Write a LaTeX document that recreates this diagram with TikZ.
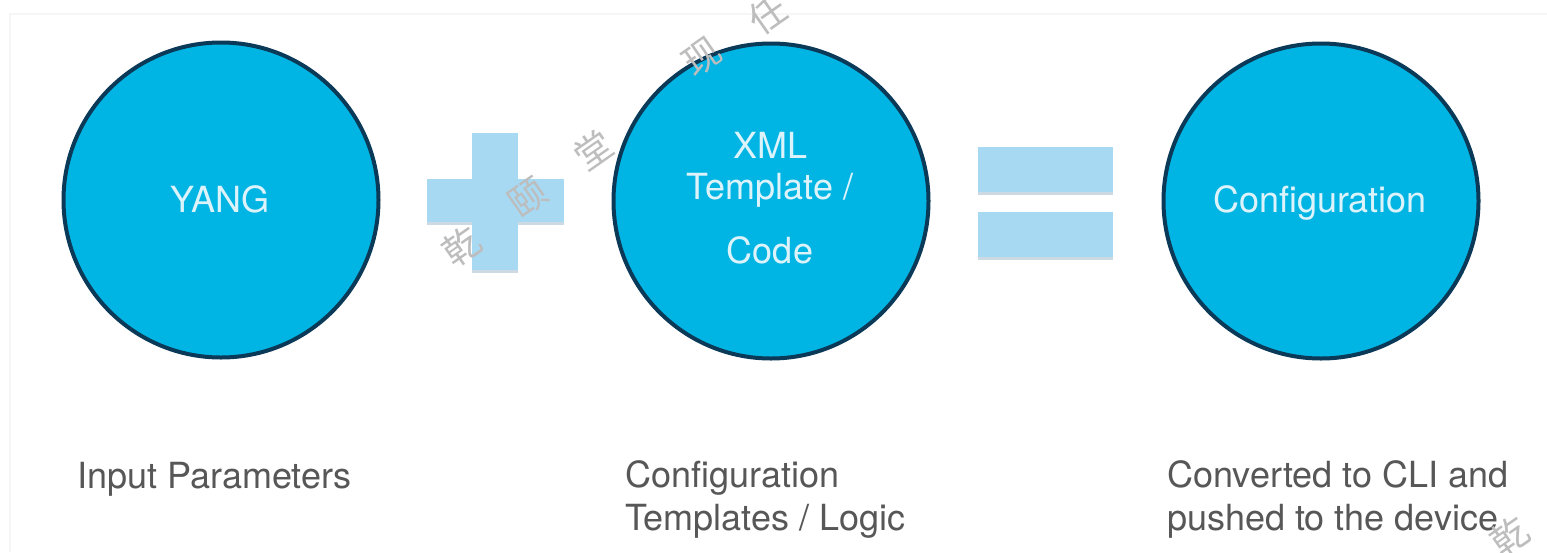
\documentclass[tikz,border=0pt]{standalone}
\usepackage{fontspec}
\setmainfont{TeX Gyre Heros}
\newfontfamily\cjk{Noto Sans CJK SC}
\usetikzlibrary{calc}

\definecolor{ballfill}{HTML}{00B5E3}
\definecolor{ballrim}{HTML}{0B3A58}
\definecolor{balltext}{HTML}{DCF3FB}
\definecolor{opfill}{HTML}{A8D9F3}
\definecolor{opshade}{HTML}{9DB7C9}
\definecolor{labelgray}{HTML}{575757}
\definecolor{markgray}{HTML}{BDBDBD}
\definecolor{framegray}{HTML}{F6F6F6}

\tikzset{
  ball/.style={circle, fill=ballfill, draw=ballrim, line width=4pt,
               minimum size=315pt, inner sep=0pt},
  balltxt/.style={anchor=base, text=balltext, inner sep=0pt,
                  font=\fontsize{36}{42}\selectfont},
  captxt/.style={anchor=base west, text=labelgray, inner sep=0pt,
                 font=\fontsize{36}{43}\selectfont},
  opbar/.style={fill=opfill},
  opshadow/.style={fill=opshade, opacity=0.5},
  stamp/.style={text=markgray, rotate=35, inner sep=0pt,
                font=\cjk\fontsize{37}{37}\selectfont}
}

\begin{document}
\begin{tikzpicture}[x=1pt, y=-1pt]
  % canvas
  \fill[white] (0,0) rectangle (1547,552);
  \useasboundingbox (0,0) rectangle (1547,552);
  \draw[framegray, line width=1.2pt] (10,552) -- (10,14) -- (1547,14);

  % the three circles
  \node[ball] (yang) at (221,200) {};
  \node[ball] (tmpl) at (771,201) {};
  \node[ball] (conf) at (1321,201) {};

  \node[balltxt] (yangtxt) at (220,212) {YANG};
  \node[balltxt] (tmplA) at (770,158) {XML};
  \node[balltxt] (tmplB) at (770,199) {Template /};
  \node[balltxt] (tmplC) at (770,263) {Code};
  \node[balltxt] (conftxt) at (1320,212) {Configuration};

  % plus sign, with a soft drop shadow under each bar
  \fill[opshadow] (427,182) rectangle (564,225);
  \fill[opshadow] (472,136) rectangle (518,273);
  \fill[opbar] (427,179) rectangle (564,222);
  \fill[opbar] (472,133) rectangle (518,270);

  % equals sign
  \fill[opshadow] (978,150) rectangle (1113,195);
  \fill[opshadow] (978,215) rectangle (1113,260);
  \fill[opbar] (978,147) rectangle (1113,192);
  \fill[opbar] (978,212) rectangle (1113,257);

  % captions
  \node[captxt] (capA) at (77,488) {Input Parameters};
  \node[captxt] (capB1) at (625,487) {Configuration};
  \node[captxt] (capB2) at (625,530) {Templates / Logic};
  \node[captxt] (capC1) at (1167,487) {Converted to CLI and};
  \node[captxt] (capC2) at (1167,530) {pushed to the device};

  % faint stamp characters laid over the drawing
  \node[stamp] (s1) at (462,246) {乾};
  \node[stamp] (s2) at (528,198) {颐};
  \node[stamp] (s3) at (593,150) {堂};
  \node[stamp] (s4) at (702,57) {现};
  \node[stamp] (s5) at (768,14) {任};
  \node[stamp] (s6) at (1510,536) {乾};
\end{tikzpicture}
\end{document}
